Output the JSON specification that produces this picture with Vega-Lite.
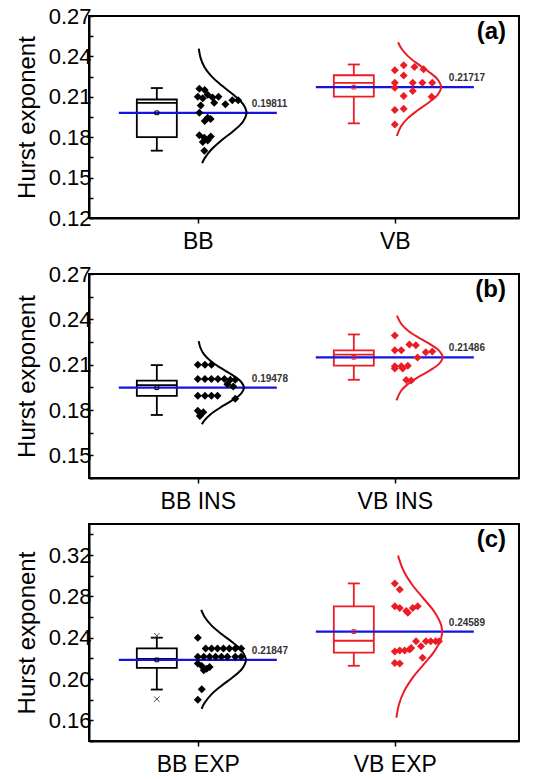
{
"$schema": "https://vega.github.io/schema/vega-lite/v6.json",
"padding": {"left": 14, "top": 4, "right": 5, "bottom": 5},
"background": "white",
"spacing": 8,
"datasets": {
"box": [
{"panel":"a","grp":"BB","pos":1,"min":0.170,"q1":0.180,"med":0.2055,"q3":0.208,"max":0.2165,"mean":0.19811,"lab":"0.19811"},
{"panel":"a","grp":"VB","pos":2,"min":0.1903,"q1":0.2101,"med":0.2204,"q3":0.2260,"max":0.2340,"mean":0.21717,"lab":"0.21717"},
{"panel":"b","grp":"BB","pos":1,"min":0.1767,"q1":0.1893,"med":0.1965,"q3":0.1995,"max":0.2097,"mean":0.19478,"lab":"0.19478"},
{"panel":"b","grp":"VB","pos":2,"min":0.2000,"q1":0.2093,"med":0.2167,"q3":0.2195,"max":0.2300,"mean":0.21486,"lab":"0.21486"},
{"panel":"c","grp":"BB","pos":1,"min":0.1898,"q1":0.2108,"med":0.2195,"q3":0.2297,"max":0.2400,"mean":0.21847,"lab":"0.21847"},
{"panel":"c","grp":"VB","pos":2,"min":0.2128,"q1":0.2256,"med":0.2370,"q3":0.2703,"max":0.2925,"mean":0.24589,"lab":"0.24589"}
],
"outl": [
{"panel":"c","grp":"BB","pos":1,"v":0.1805},
{"panel":"c","grp":"BB","pos":1,"v":0.2418}
],
"tags": [
{"panel":"a","t":"(a)"},{"panel":"b","t":"(b)"},{"panel":"c","t":"(c)"}
],
"pts": [
{"panel":"a","grp":"BB","x":1.008,"y":0.2160},{"panel":"a","grp":"BB","x":1.035,"y":0.2150},{"panel":"a","grp":"BB","x":1.0,"y":0.2100},{"panel":"a","grp":"BB","x":1.025,"y":0.2090},{"panel":"a","grp":"BB","x":1.05,"y":0.2115},{"panel":"a","grp":"BB","x":1.075,"y":0.2095},{"panel":"a","grp":"BB","x":1.083,"y":0.2055},{"panel":"a","grp":"BB","x":1.105,"y":0.2100},{"panel":"a","grp":"BB","x":1.14,"y":0.2045},{"panel":"a","grp":"BB","x":1.175,"y":0.2075},{"panel":"a","grp":"BB","x":1.205,"y":0.2075},{"panel":"a","grp":"BB","x":1.015,"y":0.2035},{"panel":"a","grp":"BB","x":1.008,"y":0.1982},{"panel":"a","grp":"BB","x":1.05,"y":0.1945},{"panel":"a","grp":"BB","x":1.035,"y":0.1920},{"panel":"a","grp":"BB","x":1.065,"y":0.1935},{"panel":"a","grp":"BB","x":1.008,"y":0.1815},{"panel":"a","grp":"BB","x":1.033,"y":0.1796},{"panel":"a","grp":"BB","x":1.066,"y":0.1805},{"panel":"a","grp":"BB","x":1.025,"y":0.1765},{"panel":"a","grp":"BB","x":1.05,"y":0.1775},{"panel":"a","grp":"BB","x":1.033,"y":0.1700},
{"panel":"a","grp":"VB","x":2.0,"y":0.2297},{"panel":"a","grp":"VB","x":2.045,"y":0.2334},{"panel":"a","grp":"VB","x":2.045,"y":0.2259},{"panel":"a","grp":"VB","x":2.10,"y":0.2322},{"panel":"a","grp":"VB","x":2.146,"y":0.2304},{"panel":"a","grp":"VB","x":2.0,"y":0.2204},{"panel":"a","grp":"VB","x":2.0,"y":0.2167},{"panel":"a","grp":"VB","x":2.091,"y":0.2204},{"panel":"a","grp":"VB","x":2.14,"y":0.2204},{"panel":"a","grp":"VB","x":2.19,"y":0.2204},{"panel":"a","grp":"VB","x":2.045,"y":0.2106},{"panel":"a","grp":"VB","x":2.091,"y":0.2143},{"panel":"a","grp":"VB","x":2.187,"y":0.2101},{"panel":"a","grp":"VB","x":2.0,"y":0.2002},{"panel":"a","grp":"VB","x":2.045,"y":0.2011},{"panel":"a","grp":"VB","x":2.0,"y":0.1895},
{"panel":"b","grp":"BB","x":1.0,"y":0.2100},{"panel":"b","grp":"BB","x":1.036,"y":0.2100},{"panel":"b","grp":"BB","x":1.069,"y":0.2100},{"panel":"b","grp":"BB","x":1.0,"y":0.2005},{"panel":"b","grp":"BB","x":1.036,"y":0.2005},{"panel":"b","grp":"BB","x":1.069,"y":0.2005},{"panel":"b","grp":"BB","x":1.102,"y":0.2005},{"panel":"b","grp":"BB","x":1.135,"y":0.2005},{"panel":"b","grp":"BB","x":1.165,"y":0.2000},{"panel":"b","grp":"BB","x":1.19,"y":0.2000},{"panel":"b","grp":"BB","x":1.15,"y":0.1970},{"panel":"b","grp":"BB","x":1.18,"y":0.1955},{"panel":"b","grp":"BB","x":1.0,"y":0.1895},{"panel":"b","grp":"BB","x":1.036,"y":0.1895},{"panel":"b","grp":"BB","x":1.069,"y":0.1895},{"panel":"b","grp":"BB","x":1.10,"y":0.1895},{"panel":"b","grp":"BB","x":1.19,"y":0.1875},{"panel":"b","grp":"BB","x":1.0,"y":0.1795},{"panel":"b","grp":"BB","x":1.028,"y":0.1785},{"panel":"b","grp":"BB","x":1.01,"y":0.1760},
{"panel":"b","grp":"VB","x":2.0,"y":0.2293},{"panel":"b","grp":"VB","x":2.0,"y":0.2195},{"panel":"b","grp":"VB","x":2.033,"y":0.2195},{"panel":"b","grp":"VB","x":2.074,"y":0.2233},{"panel":"b","grp":"VB","x":2.107,"y":0.2228},{"panel":"b","grp":"VB","x":2.157,"y":0.2182},{"panel":"b","grp":"VB","x":2.19,"y":0.2187},{"panel":"b","grp":"VB","x":2.115,"y":0.2147},{"panel":"b","grp":"VB","x":2.0,"y":0.2089},{"panel":"b","grp":"VB","x":2.033,"y":0.2089},{"panel":"b","grp":"VB","x":2.066,"y":0.2093},{"panel":"b","grp":"VB","x":2.0,"y":0.2075},{"panel":"b","grp":"VB","x":2.04,"y":0.2075},{"panel":"b","grp":"VB","x":2.058,"y":0.1998},{"panel":"b","grp":"VB","x":2.083,"y":0.1995},
{"panel":"c","grp":"BB","x":1.0,"y":0.2400},{"panel":"c","grp":"BB","x":1.04,"y":0.2295},{"panel":"c","grp":"BB","x":1.07,"y":0.2295},{"panel":"c","grp":"BB","x":1.10,"y":0.2295},{"panel":"c","grp":"BB","x":1.13,"y":0.2295},{"panel":"c","grp":"BB","x":1.16,"y":0.2295},{"panel":"c","grp":"BB","x":1.19,"y":0.2295},{"panel":"c","grp":"BB","x":1.22,"y":0.2295},{"panel":"c","grp":"BB","x":1.0,"y":0.2215},{"panel":"c","grp":"BB","x":1.03,"y":0.2215},{"panel":"c","grp":"BB","x":1.06,"y":0.2215},{"panel":"c","grp":"BB","x":1.09,"y":0.2215},{"panel":"c","grp":"BB","x":1.12,"y":0.2215},{"panel":"c","grp":"BB","x":1.15,"y":0.2215},{"panel":"c","grp":"BB","x":1.19,"y":0.2215},{"panel":"c","grp":"BB","x":1.22,"y":0.2215},{"panel":"c","grp":"BB","x":1.0,"y":0.2150},{"panel":"c","grp":"BB","x":1.02,"y":0.2125},{"panel":"c","grp":"BB","x":1.045,"y":0.2100},{"panel":"c","grp":"BB","x":1.06,"y":0.2115},{"panel":"c","grp":"BB","x":1.03,"y":0.2085},{"panel":"c","grp":"BB","x":1.02,"y":0.1900},{"panel":"c","grp":"BB","x":1.0,"y":0.1800},
{"panel":"c","grp":"VB","x":2.0,"y":0.2923},{"panel":"c","grp":"VB","x":2.025,"y":0.2867},{"panel":"c","grp":"VB","x":2.0,"y":0.2705},{"panel":"c","grp":"VB","x":2.025,"y":0.2688},{"panel":"c","grp":"VB","x":2.058,"y":0.2657},{"panel":"c","grp":"VB","x":2.066,"y":0.2641},{"panel":"c","grp":"VB","x":2.091,"y":0.2688},{"panel":"c","grp":"VB","x":2.116,"y":0.2705},{"panel":"c","grp":"VB","x":2.108,"y":0.2366},{"panel":"c","grp":"VB","x":2.158,"y":0.2366},{"panel":"c","grp":"VB","x":2.182,"y":0.2366},{"panel":"c","grp":"VB","x":2.207,"y":0.2366},{"panel":"c","grp":"VB","x":2.224,"y":0.2366},{"panel":"c","grp":"VB","x":2.133,"y":0.2318},{"panel":"c","grp":"VB","x":2.0,"y":0.2266},{"panel":"c","grp":"VB","x":2.025,"y":0.2275},{"panel":"c","grp":"VB","x":2.05,"y":0.2275},{"panel":"c","grp":"VB","x":2.075,"y":0.2285},{"panel":"c","grp":"VB","x":2.083,"y":0.2300},{"panel":"c","grp":"VB","x":2.141,"y":0.2205},{"panel":"c","grp":"VB","x":2.0,"y":0.2156},{"panel":"c","grp":"VB","x":2.025,"y":0.2150}
],
"curve": [
{"panel":"a","grp":"BB","x":1.022,"y":0.1607},{"panel":"a","grp":"BB","x":1.0334,"y":0.1641},{"panel":"a","grp":"BB","x":1.0687,"y":0.1709},{"panel":"a","grp":"BB","x":1.1202,"y":0.1777},{"panel":"a","grp":"BB","x":1.1793,"y":0.1845},{"panel":"a","grp":"BB","x":1.228,"y":0.1913},{"panel":"a","grp":"BB","x":1.247,"y":0.1981},{"panel":"a","grp":"BB","x":1.228,"y":0.2049},{"panel":"a","grp":"BB","x":1.1793,"y":0.2117},{"panel":"a","grp":"BB","x":1.1202,"y":0.2185},{"panel":"a","grp":"BB","x":1.0687,"y":0.2253},{"panel":"a","grp":"BB","x":1.0334,"y":0.2321},{"panel":"a","grp":"BB","x":1.0139,"y":0.2389},{"panel":"a","grp":"BB","x":1.0049,"y":0.2457},
{"panel":"a","grp":"VB","x":2.0103,"y":0.1809},{"panel":"a","grp":"VB","x":2.0318,"y":0.1882},{"panel":"a","grp":"VB","x":2.0653,"y":0.1940},{"panel":"a","grp":"VB","x":2.1144,"y":0.1998},{"panel":"a","grp":"VB","x":2.1706,"y":0.2056},{"panel":"a","grp":"VB","x":2.2169,"y":0.2114},{"panel":"a","grp":"VB","x":2.235,"y":0.2172},{"panel":"a","grp":"VB","x":2.2169,"y":0.2230},{"panel":"a","grp":"VB","x":2.1706,"y":0.2288},{"panel":"a","grp":"VB","x":2.1144,"y":0.2346},{"panel":"a","grp":"VB","x":2.0653,"y":0.2404},{"panel":"a","grp":"VB","x":2.0318,"y":0.2462},{"panel":"a","grp":"VB","x":2.0167,"y":0.2505},
{"panel":"b","grp":"BB","x":1.0208,"y":0.1706},{"panel":"b","grp":"BB","x":1.0317,"y":0.1728},{"panel":"b","grp":"BB","x":1.0651,"y":0.1772},{"panel":"b","grp":"BB","x":1.1139,"y":0.1816},{"panel":"b","grp":"BB","x":1.1699,"y":0.1860},{"panel":"b","grp":"BB","x":1.216,"y":0.1904},{"panel":"b","grp":"BB","x":1.234,"y":0.1948},{"panel":"b","grp":"BB","x":1.216,"y":0.1992},{"panel":"b","grp":"BB","x":1.1699,"y":0.2036},{"panel":"b","grp":"BB","x":1.1139,"y":0.2080},{"panel":"b","grp":"BB","x":1.0651,"y":0.2124},{"panel":"b","grp":"BB","x":1.0317,"y":0.2168},{"panel":"b","grp":"BB","x":1.0131,"y":0.2212},{"panel":"b","grp":"BB","x":1.0046,"y":0.2256},
{"panel":"b","grp":"VB","x":2.0083,"y":0.1863},{"panel":"b","grp":"VB","x":2.0329,"y":0.1929},{"panel":"b","grp":"VB","x":2.0676,"y":0.1973},{"panel":"b","grp":"VB","x":2.1183,"y":0.2017},{"panel":"b","grp":"VB","x":2.1764,"y":0.2061},{"panel":"b","grp":"VB","x":2.2243,"y":0.2105},{"panel":"b","grp":"VB","x":2.243,"y":0.2149},{"panel":"b","grp":"VB","x":2.2243,"y":0.2193},{"panel":"b","grp":"VB","x":2.1764,"y":0.2237},{"panel":"b","grp":"VB","x":2.1183,"y":0.2281},{"panel":"b","grp":"VB","x":2.0676,"y":0.2325},{"panel":"b","grp":"VB","x":2.0329,"y":0.2369},{"panel":"b","grp":"VB","x":2.0107,"y":0.2424},
{"panel":"c","grp":"BB","x":1.0194,"y":0.1712},{"panel":"c","grp":"BB","x":1.033,"y":0.1765},{"panel":"c","grp":"BB","x":1.0678,"y":0.1849},{"panel":"c","grp":"BB","x":1.1188,"y":0.1933},{"panel":"c","grp":"BB","x":1.1772,"y":0.2017},{"panel":"c","grp":"BB","x":1.2252,"y":0.2101},{"panel":"c","grp":"BB","x":1.244,"y":0.2185},{"panel":"c","grp":"BB","x":1.2252,"y":0.2269},{"panel":"c","grp":"BB","x":1.1772,"y":0.2353},{"panel":"c","grp":"BB","x":1.1188,"y":0.2437},{"panel":"c","grp":"BB","x":1.0678,"y":0.2521},{"panel":"c","grp":"BB","x":1.033,"y":0.2605},{"panel":"c","grp":"BB","x":1.0173,"y":0.2668},
{"panel":"c","grp":"VB","x":2.0082,"y":0.1627},{"panel":"c","grp":"VB","x":2.0213,"y":0.1755},{"panel":"c","grp":"VB","x":2.0475,"y":0.1883},{"panel":"c","grp":"VB","x":2.0901,"y":0.2011},{"panel":"c","grp":"VB","x":2.1456,"y":0.2139},{"panel":"c","grp":"VB","x":2.2005,"y":0.2267},{"panel":"c","grp":"VB","x":2.2352,"y":0.2395},{"panel":"c","grp":"VB","x":2.24,"y":0.2459},{"panel":"c","grp":"VB","x":2.2352,"y":0.2523},{"panel":"c","grp":"VB","x":2.2005,"y":0.2651},{"panel":"c","grp":"VB","x":2.1456,"y":0.2779},{"panel":"c","grp":"VB","x":2.0901,"y":0.2907},{"panel":"c","grp":"VB","x":2.0475,"y":0.3035},{"panel":"c","grp":"VB","x":2.0213,"y":0.3163},{"panel":"c","grp":"VB","x":2.017,"y":0.3195}
]
},
"vconcat": [
{
"width": 430, "height": 202,
"layer": [
{"data":{"name":"box"},"transform":[{"filter":"datum.panel=='a'"}],"mark":{"type":"rule","xOffset":-41,"strokeWidth":1.8},
 "encoding":{"x":{"field":"pos","type":"quantitative","scale":{"domain":[0.473,2.605],"nice":false,"zero":false},"axis":{"title":null,"values":[1,2],"labelExpr":"datum.value==1?'BB':'VB'"}},
 "y":{"field":"min","type":"quantitative","scale":{"domain":[0.12,0.27],"nice":false,"zero":false},"axis":{"title":"Hurst exponent","values":[0.12,0.135,0.15,0.165,0.18,0.195,0.21,0.225,0.24,0.255,0.27],"labelExpr":"round(datum.value*1000)%30==0?format(datum.value,'.2f'):''"}},
 "y2":{"field":"max"},
 "color":{"field":"grp","type":"nominal","scale":{"domain":["BB","VB"],"range":["#000000","#ec1c24"]},"legend":null}}},
{"data":{"name":"box"},"transform":[{"filter":"datum.panel=='a'"}],"mark":{"type":"bar","width":40,"xOffset":-41,"fill":"#ffffff","strokeWidth":1.8},
 "encoding":{"x":{"field":"pos","type":"quantitative","axis":{"title":null,"values":[1,2],"labelExpr":"datum.value==1?'BB':'VB'"}},"y":{"field":"q1","type":"quantitative","axis":{"title":"Hurst exponent","values":[0.12,0.135,0.15,0.165,0.18,0.195,0.21,0.225,0.24,0.255,0.27],"labelExpr":"round(datum.value*1000)%30==0?format(datum.value,'.2f'):''"}},"y2":{"field":"q3"},
 "stroke":{"field":"grp","type":"nominal","scale":{"domain":["BB","VB"],"range":["#000000","#ec1c24"]},"legend":null}}},
{"data":{"name":"box"},"transform":[{"filter":"datum.panel=='a'"}],"mark":{"type":"tick","orient":"horizontal","size":40,"thickness":1.8,"xOffset":-41,"opacity":1},
 "encoding":{"x":{"field":"pos","type":"quantitative","axis":{"title":null,"values":[1,2],"labelExpr":"datum.value==1?'BB':'VB'"}},"y":{"field":"med","type":"quantitative","axis":{"title":"Hurst exponent","values":[0.12,0.135,0.15,0.165,0.18,0.195,0.21,0.225,0.24,0.255,0.27],"labelExpr":"round(datum.value*1000)%30==0?format(datum.value,'.2f'):''"}},"color":{"field":"grp","type":"nominal","scale":{"domain":["BB","VB"],"range":["#000000","#ec1c24"]},"legend":null}}},
{"data":{"name":"box"},"transform":[{"filter":"datum.panel=='a'"}],"mark":{"type":"tick","orient":"horizontal","size":12,"thickness":1.8,"xOffset":-41,"opacity":1},
 "encoding":{"x":{"field":"pos","type":"quantitative","axis":{"title":null,"values":[1,2],"labelExpr":"datum.value==1?'BB':'VB'"}},"y":{"field":"max","type":"quantitative","axis":{"title":"Hurst exponent","values":[0.12,0.135,0.15,0.165,0.18,0.195,0.21,0.225,0.24,0.255,0.27],"labelExpr":"round(datum.value*1000)%30==0?format(datum.value,'.2f'):''"}},"color":{"field":"grp","type":"nominal","scale":{"domain":["BB","VB"],"range":["#000000","#ec1c24"]},"legend":null}}},
{"data":{"name":"box"},"transform":[{"filter":"datum.panel=='a'"}],"mark":{"type":"tick","orient":"horizontal","size":12,"thickness":1.8,"xOffset":-41,"opacity":1},
 "encoding":{"x":{"field":"pos","type":"quantitative","axis":{"title":null,"values":[1,2],"labelExpr":"datum.value==1?'BB':'VB'"}},"y":{"field":"min","type":"quantitative","axis":{"title":"Hurst exponent","values":[0.12,0.135,0.15,0.165,0.18,0.195,0.21,0.225,0.24,0.255,0.27],"labelExpr":"round(datum.value*1000)%30==0?format(datum.value,'.2f'):''"}},"color":{"field":"grp","type":"nominal","scale":{"domain":["BB","VB"],"range":["#000000","#ec1c24"]},"legend":null}}},
{"data":{"name":"box"},"transform":[{"filter":"datum.panel=='a'"}],"mark":{"type":"tick","orient":"horizontal","size":158,"thickness":2.2,"color":"#1414e0","opacity":1},
 "encoding":{"x":{"field":"pos","type":"quantitative","axis":{"title":null,"values":[1,2],"labelExpr":"datum.value==1?'BB':'VB'"}},"y":{"field":"mean","type":"quantitative","axis":{"title":"Hurst exponent","values":[0.12,0.135,0.15,0.165,0.18,0.195,0.21,0.225,0.24,0.255,0.27],"labelExpr":"round(datum.value*1000)%30==0?format(datum.value,'.2f'):''"}}}},
{"data":{"name":"box"},"transform":[{"filter":"datum.panel=='a'"}],"mark":{"type":"point","shape":"square","size":14,"filled":false,"strokeWidth":1,"xOffset":-41,"opacity":1},
 "encoding":{"x":{"field":"pos","type":"quantitative","axis":{"title":null,"values":[1,2],"labelExpr":"datum.value==1?'BB':'VB'"}},"y":{"field":"mean","type":"quantitative","axis":{"title":"Hurst exponent","values":[0.12,0.135,0.15,0.165,0.18,0.195,0.21,0.225,0.24,0.255,0.27],"labelExpr":"round(datum.value*1000)%30==0?format(datum.value,'.2f'):''"}},"color":{"field":"grp","type":"nominal","scale":{"domain":["BB","VB"],"range":["#000000","#ec1c24"]},"legend":null}}},
{"data":{"name":"pts"},"transform":[{"filter":"datum.panel=='a'"}],"mark":{"type":"point","shape":"diamond","filled":true,"size":64,"opacity":1},
 "encoding":{"x":{"field":"x","type":"quantitative","axis":{"title":null,"values":[1,2],"labelExpr":"datum.value==1?'BB':'VB'"}},"y":{"field":"y","type":"quantitative","axis":{"title":"Hurst exponent","values":[0.12,0.135,0.15,0.165,0.18,0.195,0.21,0.225,0.24,0.255,0.27],"labelExpr":"round(datum.value*1000)%30==0?format(datum.value,'.2f'):''"}},"color":{"field":"grp","type":"nominal","scale":{"domain":["BB","VB"],"range":["#000000","#ec1c24"]},"legend":null}}},
{"data":{"name":"curve"},"transform":[{"filter":"datum.panel=='a'"}],"mark":{"type":"line","strokeWidth":2,"interpolate":"catmull-rom"},
 "encoding":{"x":{"field":"x","type":"quantitative","axis":{"title":null,"values":[1,2],"labelExpr":"datum.value==1?'BB':'VB'"}},"y":{"field":"y","type":"quantitative","axis":{"title":"Hurst exponent","values":[0.12,0.135,0.15,0.165,0.18,0.195,0.21,0.225,0.24,0.255,0.27],"labelExpr":"round(datum.value*1000)%30==0?format(datum.value,'.2f'):''"}},"order":{"field":"y","type":"quantitative"},"color":{"field":"grp","type":"nominal","scale":{"domain":["BB","VB"],"range":["#000000","#ec1c24"]},"legend":null}}},
{"data":{"name":"box"},"transform":[{"filter":"datum.panel=='a'"}],"mark":{"type":"text","align":"left","baseline":"middle","dx":54,"dy":-9,"fontSize":10,"fontWeight":"bold","color":"#333333"},
 "encoding":{"x":{"field":"pos","type":"quantitative","axis":{"title":null,"values":[1,2],"labelExpr":"datum.value==1?'BB':'VB'"}},"y":{"field":"mean","type":"quantitative","axis":{"title":"Hurst exponent","values":[0.12,0.135,0.15,0.165,0.18,0.195,0.21,0.225,0.24,0.255,0.27],"labelExpr":"round(datum.value*1000)%30==0?format(datum.value,'.2f'):''"}},"text":{"field":"lab"}}},
{"data":{"name":"tags"},"transform":[{"filter":"datum.panel=='a'"}],"mark":{"type":"text","align":"right","baseline":"middle","dx":-8,"dy":16,"fontSize":24,"fontWeight":"bold","color":"#000000"},
 "encoding":{"x":{"datum":2.605,"type":"quantitative","axis":{"title":null,"values":[1,2],"labelExpr":"datum.value==1?'BB':'VB'"}},"y":{"datum":0.27,"type":"quantitative","axis":{"title":"Hurst exponent","values":[0.12,0.135,0.15,0.165,0.18,0.195,0.21,0.225,0.24,0.255,0.27],"labelExpr":"round(datum.value*1000)%30==0?format(datum.value,'.2f'):''"}},"text":{"field":"t"}}}
]
},
{
"width": 430, "height": 204,
"layer": [
{"data":{"name":"box"},"transform":[{"filter":"datum.panel=='b'"}],"mark":{"type":"rule","xOffset":-41,"strokeWidth":1.8},
 "encoding":{"x":{"field":"pos","type":"quantitative","scale":{"domain":[0.473,2.605],"nice":false,"zero":false},"axis":{"title":null,"values":[1,2],"labelExpr":"datum.value==1?'BB INS':'VB INS'"}},
 "y":{"field":"min","type":"quantitative","scale":{"domain":[0.135,0.27],"nice":false,"zero":false},"axis":{"title":"Hurst exponent","values":[0.135,0.15,0.165,0.18,0.195,0.21,0.225,0.24,0.255,0.27],"labelExpr":"round(datum.value*1000)%30==0?format(datum.value,'.2f'):''"}},
 "y2":{"field":"max"},
 "color":{"field":"grp","type":"nominal","scale":{"domain":["BB","VB"],"range":["#000000","#ec1c24"]},"legend":null}}},
{"data":{"name":"box"},"transform":[{"filter":"datum.panel=='b'"}],"mark":{"type":"bar","width":40,"xOffset":-41,"fill":"#ffffff","strokeWidth":1.8},
 "encoding":{"x":{"field":"pos","type":"quantitative","axis":{"title":null,"values":[1,2],"labelExpr":"datum.value==1?'BB INS':'VB INS'"}},"y":{"field":"q1","type":"quantitative","axis":{"title":"Hurst exponent","values":[0.135,0.15,0.165,0.18,0.195,0.21,0.225,0.24,0.255,0.27],"labelExpr":"round(datum.value*1000)%30==0?format(datum.value,'.2f'):''"}},"y2":{"field":"q3"},
 "stroke":{"field":"grp","type":"nominal","scale":{"domain":["BB","VB"],"range":["#000000","#ec1c24"]},"legend":null}}},
{"data":{"name":"box"},"transform":[{"filter":"datum.panel=='b'"}],"mark":{"type":"tick","orient":"horizontal","size":40,"thickness":1.8,"xOffset":-41,"opacity":1},
 "encoding":{"x":{"field":"pos","type":"quantitative","axis":{"title":null,"values":[1,2],"labelExpr":"datum.value==1?'BB INS':'VB INS'"}},"y":{"field":"med","type":"quantitative","axis":{"title":"Hurst exponent","values":[0.135,0.15,0.165,0.18,0.195,0.21,0.225,0.24,0.255,0.27],"labelExpr":"round(datum.value*1000)%30==0?format(datum.value,'.2f'):''"}},"color":{"field":"grp","type":"nominal","scale":{"domain":["BB","VB"],"range":["#000000","#ec1c24"]},"legend":null}}},
{"data":{"name":"box"},"transform":[{"filter":"datum.panel=='b'"}],"mark":{"type":"tick","orient":"horizontal","size":12,"thickness":1.8,"xOffset":-41,"opacity":1},
 "encoding":{"x":{"field":"pos","type":"quantitative","axis":{"title":null,"values":[1,2],"labelExpr":"datum.value==1?'BB INS':'VB INS'"}},"y":{"field":"max","type":"quantitative","axis":{"title":"Hurst exponent","values":[0.135,0.15,0.165,0.18,0.195,0.21,0.225,0.24,0.255,0.27],"labelExpr":"round(datum.value*1000)%30==0?format(datum.value,'.2f'):''"}},"color":{"field":"grp","type":"nominal","scale":{"domain":["BB","VB"],"range":["#000000","#ec1c24"]},"legend":null}}},
{"data":{"name":"box"},"transform":[{"filter":"datum.panel=='b'"}],"mark":{"type":"tick","orient":"horizontal","size":12,"thickness":1.8,"xOffset":-41,"opacity":1},
 "encoding":{"x":{"field":"pos","type":"quantitative","axis":{"title":null,"values":[1,2],"labelExpr":"datum.value==1?'BB INS':'VB INS'"}},"y":{"field":"min","type":"quantitative","axis":{"title":"Hurst exponent","values":[0.135,0.15,0.165,0.18,0.195,0.21,0.225,0.24,0.255,0.27],"labelExpr":"round(datum.value*1000)%30==0?format(datum.value,'.2f'):''"}},"color":{"field":"grp","type":"nominal","scale":{"domain":["BB","VB"],"range":["#000000","#ec1c24"]},"legend":null}}},
{"data":{"name":"box"},"transform":[{"filter":"datum.panel=='b'"}],"mark":{"type":"tick","orient":"horizontal","size":158,"thickness":2.2,"color":"#1414e0","opacity":1},
 "encoding":{"x":{"field":"pos","type":"quantitative","axis":{"title":null,"values":[1,2],"labelExpr":"datum.value==1?'BB INS':'VB INS'"}},"y":{"field":"mean","type":"quantitative","axis":{"title":"Hurst exponent","values":[0.135,0.15,0.165,0.18,0.195,0.21,0.225,0.24,0.255,0.27],"labelExpr":"round(datum.value*1000)%30==0?format(datum.value,'.2f'):''"}}}},
{"data":{"name":"box"},"transform":[{"filter":"datum.panel=='b'"}],"mark":{"type":"point","shape":"square","size":14,"filled":false,"strokeWidth":1,"xOffset":-41,"opacity":1},
 "encoding":{"x":{"field":"pos","type":"quantitative","axis":{"title":null,"values":[1,2],"labelExpr":"datum.value==1?'BB INS':'VB INS'"}},"y":{"field":"mean","type":"quantitative","axis":{"title":"Hurst exponent","values":[0.135,0.15,0.165,0.18,0.195,0.21,0.225,0.24,0.255,0.27],"labelExpr":"round(datum.value*1000)%30==0?format(datum.value,'.2f'):''"}},"color":{"field":"grp","type":"nominal","scale":{"domain":["BB","VB"],"range":["#000000","#ec1c24"]},"legend":null}}},
{"data":{"name":"pts"},"transform":[{"filter":"datum.panel=='b'"}],"mark":{"type":"point","shape":"diamond","filled":true,"size":64,"opacity":1},
 "encoding":{"x":{"field":"x","type":"quantitative","axis":{"title":null,"values":[1,2],"labelExpr":"datum.value==1?'BB INS':'VB INS'"}},"y":{"field":"y","type":"quantitative","axis":{"title":"Hurst exponent","values":[0.135,0.15,0.165,0.18,0.195,0.21,0.225,0.24,0.255,0.27],"labelExpr":"round(datum.value*1000)%30==0?format(datum.value,'.2f'):''"}},"color":{"field":"grp","type":"nominal","scale":{"domain":["BB","VB"],"range":["#000000","#ec1c24"]},"legend":null}}},
{"data":{"name":"curve"},"transform":[{"filter":"datum.panel=='b'"}],"mark":{"type":"line","strokeWidth":2,"interpolate":"catmull-rom"},
 "encoding":{"x":{"field":"x","type":"quantitative","axis":{"title":null,"values":[1,2],"labelExpr":"datum.value==1?'BB INS':'VB INS'"}},"y":{"field":"y","type":"quantitative","axis":{"title":"Hurst exponent","values":[0.135,0.15,0.165,0.18,0.195,0.21,0.225,0.24,0.255,0.27],"labelExpr":"round(datum.value*1000)%30==0?format(datum.value,'.2f'):''"}},"order":{"field":"y","type":"quantitative"},"color":{"field":"grp","type":"nominal","scale":{"domain":["BB","VB"],"range":["#000000","#ec1c24"]},"legend":null}}},
{"data":{"name":"box"},"transform":[{"filter":"datum.panel=='b'"}],"mark":{"type":"text","align":"left","baseline":"middle","dx":54,"dy":-9,"fontSize":10,"fontWeight":"bold","color":"#333333"},
 "encoding":{"x":{"field":"pos","type":"quantitative","axis":{"title":null,"values":[1,2],"labelExpr":"datum.value==1?'BB INS':'VB INS'"}},"y":{"field":"mean","type":"quantitative","axis":{"title":"Hurst exponent","values":[0.135,0.15,0.165,0.18,0.195,0.21,0.225,0.24,0.255,0.27],"labelExpr":"round(datum.value*1000)%30==0?format(datum.value,'.2f'):''"}},"text":{"field":"lab"}}},
{"data":{"name":"tags"},"transform":[{"filter":"datum.panel=='b'"}],"mark":{"type":"text","align":"right","baseline":"middle","dx":-8,"dy":16,"fontSize":24,"fontWeight":"bold","color":"#000000"},
 "encoding":{"x":{"datum":2.605,"type":"quantitative","axis":{"title":null,"values":[1,2],"labelExpr":"datum.value==1?'BB INS':'VB INS'"}},"y":{"datum":0.27,"type":"quantitative","axis":{"title":"Hurst exponent","values":[0.135,0.15,0.165,0.18,0.195,0.21,0.225,0.24,0.255,0.27],"labelExpr":"round(datum.value*1000)%30==0?format(datum.value,'.2f'):''"}},"text":{"field":"t"}}}
]
},
{
"width": 430, "height": 217,
"layer": [
{"data":{"name":"box"},"transform":[{"filter":"datum.panel=='c'"}],"mark":{"type":"rule","xOffset":-41,"strokeWidth":1.8},
 "encoding":{"x":{"field":"pos","type":"quantitative","scale":{"domain":[0.473,2.605],"nice":false,"zero":false},"axis":{"title":null,"values":[1,2],"labelExpr":"datum.value==1?'BB EXP':'VB EXP'"}},
 "y":{"field":"min","type":"quantitative","scale":{"domain":[0.14,0.35],"nice":false,"zero":false},"axis":{"title":"Hurst exponent","values":[0.14,0.16,0.18,0.2,0.22,0.24,0.26,0.28,0.3,0.32,0.34],"labelExpr":"round(datum.value*1000)%40==0?format(datum.value,'.2f'):''"}},
 "y2":{"field":"max"},
 "color":{"field":"grp","type":"nominal","scale":{"domain":["BB","VB"],"range":["#000000","#ec1c24"]},"legend":null}}},
{"data":{"name":"box"},"transform":[{"filter":"datum.panel=='c'"}],"mark":{"type":"bar","width":40,"xOffset":-41,"fill":"#ffffff","strokeWidth":1.8},
 "encoding":{"x":{"field":"pos","type":"quantitative","axis":{"title":null,"values":[1,2],"labelExpr":"datum.value==1?'BB EXP':'VB EXP'"}},"y":{"field":"q1","type":"quantitative","axis":{"title":"Hurst exponent","values":[0.14,0.16,0.18,0.2,0.22,0.24,0.26,0.28,0.3,0.32,0.34],"labelExpr":"round(datum.value*1000)%40==0?format(datum.value,'.2f'):''"}},"y2":{"field":"q3"},
 "stroke":{"field":"grp","type":"nominal","scale":{"domain":["BB","VB"],"range":["#000000","#ec1c24"]},"legend":null}}},
{"data":{"name":"box"},"transform":[{"filter":"datum.panel=='c'"}],"mark":{"type":"tick","orient":"horizontal","size":40,"thickness":1.8,"xOffset":-41,"opacity":1},
 "encoding":{"x":{"field":"pos","type":"quantitative","axis":{"title":null,"values":[1,2],"labelExpr":"datum.value==1?'BB EXP':'VB EXP'"}},"y":{"field":"med","type":"quantitative","axis":{"title":"Hurst exponent","values":[0.14,0.16,0.18,0.2,0.22,0.24,0.26,0.28,0.3,0.32,0.34],"labelExpr":"round(datum.value*1000)%40==0?format(datum.value,'.2f'):''"}},"color":{"field":"grp","type":"nominal","scale":{"domain":["BB","VB"],"range":["#000000","#ec1c24"]},"legend":null}}},
{"data":{"name":"box"},"transform":[{"filter":"datum.panel=='c'"}],"mark":{"type":"tick","orient":"horizontal","size":12,"thickness":1.8,"xOffset":-41,"opacity":1},
 "encoding":{"x":{"field":"pos","type":"quantitative","axis":{"title":null,"values":[1,2],"labelExpr":"datum.value==1?'BB EXP':'VB EXP'"}},"y":{"field":"max","type":"quantitative","axis":{"title":"Hurst exponent","values":[0.14,0.16,0.18,0.2,0.22,0.24,0.26,0.28,0.3,0.32,0.34],"labelExpr":"round(datum.value*1000)%40==0?format(datum.value,'.2f'):''"}},"color":{"field":"grp","type":"nominal","scale":{"domain":["BB","VB"],"range":["#000000","#ec1c24"]},"legend":null}}},
{"data":{"name":"box"},"transform":[{"filter":"datum.panel=='c'"}],"mark":{"type":"tick","orient":"horizontal","size":12,"thickness":1.8,"xOffset":-41,"opacity":1},
 "encoding":{"x":{"field":"pos","type":"quantitative","axis":{"title":null,"values":[1,2],"labelExpr":"datum.value==1?'BB EXP':'VB EXP'"}},"y":{"field":"min","type":"quantitative","axis":{"title":"Hurst exponent","values":[0.14,0.16,0.18,0.2,0.22,0.24,0.26,0.28,0.3,0.32,0.34],"labelExpr":"round(datum.value*1000)%40==0?format(datum.value,'.2f'):''"}},"color":{"field":"grp","type":"nominal","scale":{"domain":["BB","VB"],"range":["#000000","#ec1c24"]},"legend":null}}},
{"data":{"name":"outl"},"transform":[{"filter":"datum.panel=='c'"}],"mark":{"type":"point","shape":"M-1,-1L1,1M-1,1L1,-1","size":30,"filled":false,"strokeWidth":1,"xOffset":-41,"color":"#444444","opacity":1},
 "encoding":{"x":{"field":"pos","type":"quantitative","axis":{"title":null,"values":[1,2],"labelExpr":"datum.value==1?'BB EXP':'VB EXP'"}},"y":{"field":"v","type":"quantitative","axis":{"title":"Hurst exponent","values":[0.14,0.16,0.18,0.2,0.22,0.24,0.26,0.28,0.3,0.32,0.34],"labelExpr":"round(datum.value*1000)%40==0?format(datum.value,'.2f'):''"}}}},
{"data":{"name":"box"},"transform":[{"filter":"datum.panel=='c'"}],"mark":{"type":"tick","orient":"horizontal","size":158,"thickness":2.2,"color":"#1414e0","opacity":1},
 "encoding":{"x":{"field":"pos","type":"quantitative","axis":{"title":null,"values":[1,2],"labelExpr":"datum.value==1?'BB EXP':'VB EXP'"}},"y":{"field":"mean","type":"quantitative","axis":{"title":"Hurst exponent","values":[0.14,0.16,0.18,0.2,0.22,0.24,0.26,0.28,0.3,0.32,0.34],"labelExpr":"round(datum.value*1000)%40==0?format(datum.value,'.2f'):''"}}}},
{"data":{"name":"box"},"transform":[{"filter":"datum.panel=='c'"}],"mark":{"type":"point","shape":"square","size":14,"filled":false,"strokeWidth":1,"xOffset":-41,"opacity":1},
 "encoding":{"x":{"field":"pos","type":"quantitative","axis":{"title":null,"values":[1,2],"labelExpr":"datum.value==1?'BB EXP':'VB EXP'"}},"y":{"field":"mean","type":"quantitative","axis":{"title":"Hurst exponent","values":[0.14,0.16,0.18,0.2,0.22,0.24,0.26,0.28,0.3,0.32,0.34],"labelExpr":"round(datum.value*1000)%40==0?format(datum.value,'.2f'):''"}},"color":{"field":"grp","type":"nominal","scale":{"domain":["BB","VB"],"range":["#000000","#ec1c24"]},"legend":null}}},
{"data":{"name":"pts"},"transform":[{"filter":"datum.panel=='c'"}],"mark":{"type":"point","shape":"diamond","filled":true,"size":64,"opacity":1},
 "encoding":{"x":{"field":"x","type":"quantitative","axis":{"title":null,"values":[1,2],"labelExpr":"datum.value==1?'BB EXP':'VB EXP'"}},"y":{"field":"y","type":"quantitative","axis":{"title":"Hurst exponent","values":[0.14,0.16,0.18,0.2,0.22,0.24,0.26,0.28,0.3,0.32,0.34],"labelExpr":"round(datum.value*1000)%40==0?format(datum.value,'.2f'):''"}},"color":{"field":"grp","type":"nominal","scale":{"domain":["BB","VB"],"range":["#000000","#ec1c24"]},"legend":null}}},
{"data":{"name":"curve"},"transform":[{"filter":"datum.panel=='c'"}],"mark":{"type":"line","strokeWidth":2,"interpolate":"catmull-rom"},
 "encoding":{"x":{"field":"x","type":"quantitative","axis":{"title":null,"values":[1,2],"labelExpr":"datum.value==1?'BB EXP':'VB EXP'"}},"y":{"field":"y","type":"quantitative","axis":{"title":"Hurst exponent","values":[0.14,0.16,0.18,0.2,0.22,0.24,0.26,0.28,0.3,0.32,0.34],"labelExpr":"round(datum.value*1000)%40==0?format(datum.value,'.2f'):''"}},"order":{"field":"y","type":"quantitative"},"color":{"field":"grp","type":"nominal","scale":{"domain":["BB","VB"],"range":["#000000","#ec1c24"]},"legend":null}}},
{"data":{"name":"box"},"transform":[{"filter":"datum.panel=='c'"}],"mark":{"type":"text","align":"left","baseline":"middle","dx":54,"dy":-9,"fontSize":10,"fontWeight":"bold","color":"#333333"},
 "encoding":{"x":{"field":"pos","type":"quantitative","axis":{"title":null,"values":[1,2],"labelExpr":"datum.value==1?'BB EXP':'VB EXP'"}},"y":{"field":"mean","type":"quantitative","axis":{"title":"Hurst exponent","values":[0.14,0.16,0.18,0.2,0.22,0.24,0.26,0.28,0.3,0.32,0.34],"labelExpr":"round(datum.value*1000)%40==0?format(datum.value,'.2f'):''"}},"text":{"field":"lab"}}},
{"data":{"name":"tags"},"transform":[{"filter":"datum.panel=='c'"}],"mark":{"type":"text","align":"right","baseline":"middle","dx":-8,"dy":16,"fontSize":24,"fontWeight":"bold","color":"#000000"},
 "encoding":{"x":{"datum":2.605,"type":"quantitative","axis":{"title":null,"values":[1,2],"labelExpr":"datum.value==1?'BB EXP':'VB EXP'"}},"y":{"datum":0.35,"type":"quantitative","axis":{"title":"Hurst exponent","values":[0.14,0.16,0.18,0.2,0.22,0.24,0.26,0.28,0.3,0.32,0.34],"labelExpr":"round(datum.value*1000)%40==0?format(datum.value,'.2f'):''"}},"text":{"field":"t"}}}
]
}
],
"config": {
"font": "Liberation Sans",
"view": {"stroke": "#000000", "strokeWidth": 2},
"axis": {"domainColor":"#000000","domainWidth":2,"tickColor":"#000000","tickWidth":1.5,"labelColor":"#000000","titleColor":"#000000","grid":false,"labelFontWeight":"normal","titleFontWeight":"normal","labelFlush":false,"labelOverlap":false},
"axisX": {"tickSize":5,"labelPadding":7,"labelFontSize":23},
"axisY": {"tickSize":-4,"labelPadding":2,"labelFontSize":22,"titleFontSize":24,"titlePadding":9}
}
}
